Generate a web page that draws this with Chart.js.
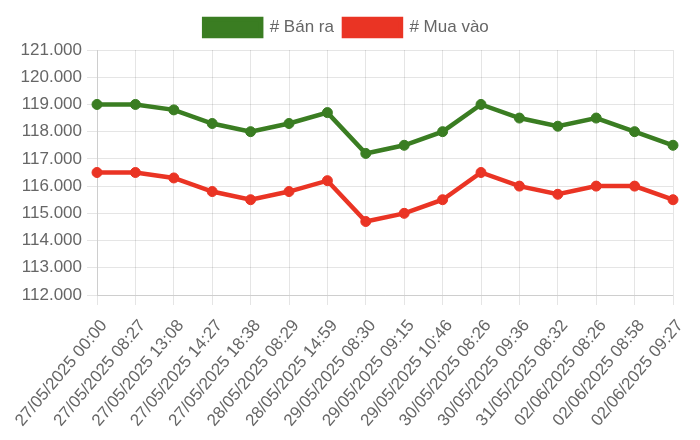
<!DOCTYPE html>
<html>
<head>
<meta charset="utf-8">
<script src="https://cdn.jsdelivr.net/npm/chart.js@4"></script>
<style>
  body { margin: 0; background: #fff; }
  #wrap { width: 700px; height: 440px; }
</style>
</head>
<body>
<div id="wrap"><canvas id="priceChart"></canvas></div>
<script>
// data
const labels = [
  '27/05/2025 00:00', '27/05/2025 08:27', '27/05/2025 13:08', '27/05/2025 14:27',
  '27/05/2025 18:38', '28/05/2025 08:29', '28/05/2025 14:59', '29/05/2025 08:30',
  '29/05/2025 09:15', '29/05/2025 10:46', '30/05/2025 08:26', '30/05/2025 09:36',
  '31/05/2025 08:32', '02/06/2025 08:26', '02/06/2025 08:58', '02/06/2025 09:27'
];
const banRa = [119000, 119000, 118800, 118300, 118000, 118300, 118700, 117200,
  117500, 118000, 119000, 118500, 118200, 118500, 118000, 117500];
const muaVao = [116500, 116500, 116300, 115800, 115500, 115800, 116200, 114700,
  115000, 115500, 116500, 116000, 115700, 116000, 116000, 115500];

const green = 'rgb(58, 125, 34)';
const red = 'rgb(234, 52, 36)';

Chart.defaults.font.family = '"Liberation Sans", Arial, Helvetica, sans-serif';
Chart.defaults.font.size = 17;
Chart.defaults.color = '#666';

// a bit of extra space under the legend
const legendGap = {
  id: 'legendGap',
  beforeInit(chart) {
    const origFit = chart.legend.fit;
    chart.legend.fit = function () {
      origFit.bind(chart.legend)();
      this.height += 4;
    };
  }
};

const ctx = document.getElementById('priceChart').getContext('2d');
const priceChart = new Chart(ctx, {
  type: 'line',
  data: {
    labels: labels,
    datasets: [
      {
        label: '# Bán ra',
        data: banRa,
        borderColor: green,
        backgroundColor: green,
        borderWidth: 4.5,
        pointRadius: 5,
        pointBorderWidth: 1,
        pointHoverRadius: 5,
        tension: 0
      },
      {
        label: '# Mua vào',
        data: muaVao,
        borderColor: red,
        backgroundColor: red,
        borderWidth: 4.5,
        pointRadius: 5,
        pointBorderWidth: 1,
        pointHoverRadius: 5,
        tension: 0
      }
    ]
  },
  options: {
    responsive: true,
    maintainAspectRatio: false,
    animation: false,
    layout: { padding: { left: 20, right: 27, top: 9, bottom: 4 } },
    plugins: {
      legend: {
        labels: { boxWidth: 57, boxHeight: 17, padding: 10, font: { size: 17 } }
      },
      tooltip: { enabled: false }
    },
    scales: {
      x: {
        ticks: { maxRotation: 50, minRotation: 50, padding: 11, labelOffset: 7, font: { size: 17 } },
        grid: { color: 'rgba(0,0,0,0.1)', tickLength: 10 },
        afterFit: function (axis) { axis.height = 141; }
      },
      y: {
        min: 112000,
        max: 121000,
        ticks: {
          stepSize: 1000,
          padding: 5,
          font: { size: 17 },
          callback: function (value) {
            return value.toLocaleString('vi-VN');
          }
        },
        grid: { color: 'rgba(0,0,0,0.1)', tickLength: 10 },
        afterFit: function (axis) { axis.width = 77; }
      }
    }
  },
  plugins: [legendGap]
});
</script>
</body>
</html>
